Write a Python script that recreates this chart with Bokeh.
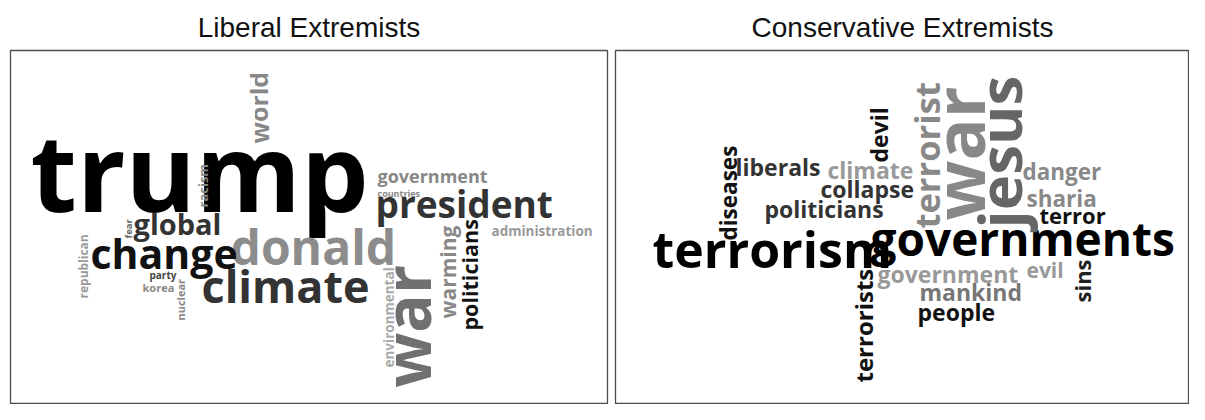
import math
from bokeh.plotting import figure
from bokeh.models import ColumnDataSource, Range1d, Title
from bokeh.layouts import row
from bokeh.core.properties import value
from bokeh.embed import file_html
from bokeh.resources import INLINE

# ---------------- data: words and their weights ----------------
lib_words = ["trump", "donald", "climate", "change", "global", "party", "korea",
             "government", "countries", "president", "administration",
             "world", "racism", "fear", "republican", "nuclear", "environmental",
             "war", "warming", "politicians"]
lib_weight = [107, 48, 45, 41, 29, 10, 11, 18, 9, 37, 13.5,
              25, 13, 9.5, 12, 11, 13.5, 64, 21, 21.5]

con_words = ["terrorism", "governments", "danger", "sharia", "terror", "evil",
             "government", "mankind", "people", "climate", "collapse", "liberals",
             "politicians", "diseases", "devil", "terrorist", "war", "jesus",
             "terrorists", "sins"]
con_weight = [50, 46, 22.5, 22.5, 22, 21, 23, 23, 23, 23, 23, 23,
              23, 22.5, 23, 34.5, 70, 60, 24, 22]

# ---------------- layout of the clouds (frame pixel coordinates, text centre line) ----------------
lib_x = [20, 220, 191, 80, 123, 139, 132, 367, 367, 365, 481,
         248, 192, 118, 73, 170, 378, 396, 437, 459]
lib_y = [120, 196, 235, 202, 173, 224, 237, 125, 143, 153, 180,
         93, 157, 188, 248, 270, 317, 337, 268, 280]
lib_rot = [0, 0, 0, 0, 0, 0, 0, 0, 0, 0, 0,
           1, 1, 1, 1, 1, 1, 1, 1, 1]
lib_col = ["#000000", "#8c8c8c", "#333333", "#111111", "#333333", "#444444", "#888888",
           "#888888", "#888888", "#333333", "#999999",
           "#888888", "#888888", "#666666", "#999999", "#888888", "#aaaaaa",
           "#707070", "#888888", "#111111"]

con_x = [37, 255, 407, 411, 424, 411, 262, 304, 302, 212, 205, 120,
         149, 113, 263, 311, 342, 384, 248, 466]
con_y = [198, 187, 121, 148, 164, 219, 223, 241, 261, 119, 138, 116,
         158, 190, 112, 178, 170, 178, 332, 252]
con_rot = [0, 0, 0, 0, 0, 0, 0, 0, 0, 0, 0, 0,
           0, 1, 1, 1, 1, 1, 1, 1]
con_col = ["#000000", "#000000", "#888888", "#888888", "#111111", "#999999",
           "#999999", "#777777", "#111111", "#999999", "#333333", "#333333",
           "#333333", "#111111", "#111111", "#888888", "#888888", "#666666",
           "#111111", "#222222"]


def cloud(title, words, weight, xs, ys, rot, cols, width, frame_w, bl, br):
    p = figure(width=width, height=404, x_range=Range1d(0, frame_w), y_range=Range1d(354, 0),
               output_backend="svg", toolbar_location=None,
               x_axis_location=None, y_axis_location=None,
               min_border_left=bl, min_border_right=br, min_border_top=50, min_border_bottom=0,
               background_fill_color="white", border_fill_color="white")
    p.grid.visible = False
    p.outline_line_color = "#4d4d4d"
    p.outline_line_width = 1.3
    p.title = Title(text=title, align="center", text_font="Liberation Sans", standoff=16,
                    text_font_size="28px", text_font_style="normal", text_color="#111111")
    src = ColumnDataSource(dict(
        x=xs, y=ys, text=words,
        fs=[f"{w}px" for w in weight],
        angle=[r * math.pi / 2 for r in rot],
        color=cols,
    ))
    p.text(x="x", y="y", text="text", angle="angle", text_color="color",
           text_font_size="fs", text_font=value("Open Sans"), text_font_style="bold",
           text_align="left", text_baseline="middle", source=src)
    return p


p1 = cloud("Liberal Extremists", lib_words, lib_weight, lib_x, lib_y, lib_rot, lib_col, 611, 597, 10, 4)
p2 = cloud("Conservative Extremists", con_words, con_weight, con_x, con_y, con_rot, con_col, 578, 574, 4, 0)

layout = row(p1, p2)
open("out.html", "w").write(file_html(layout, INLINE))
